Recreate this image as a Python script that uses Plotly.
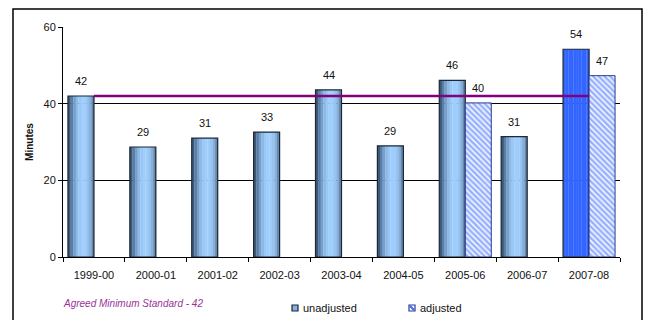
import plotly.graph_objects as go

categories = ["1999-00", "2000-01", "2001-02", "2002-03", "2003-04",
              "2004-05", "2005-06", "2006-07", "2007-08"]
unadjusted = [42.0, 28.7, 31.0, 32.6, 43.6, 29.0, 46.1, 31.4, 54.2]
adjusted = [None, None, None, None, None, None, 40.2, None, 47.3]
standard = [42, 42, 42, 42, 42, 42, 42, 42, 42]
y_ticks = [0, 20, 40, 60]
series_names = ["unadjusted", "adjusted"]

W = 647
H = 320
L, R, T, B = 63, 27, 27, 63
PW, PH = W - L - R, H - T - B


def px_x(p):
    return (p - L) / PW


def px_y(p):
    return (H - B - p) / PH


FONT = "Liberation Sans, Arial, sans-serif"
BW = 0.42  # bar width in category units
half_bar_px = BW * PW / len(categories) / 2

# gradient strips for the "unadjusted" bars
stops = ["#3E5A78", "#5A7EA6", "#76A0CC", "#8CB9E6", "#99C7F6",
         "#A0CEFC", "#9FCDFB", "#97C3F0", "#86AFD9", "#6687AE"]
n = len(stops)
highlight = "#3366FF"
hatch_color = "#3366FF"
hatch_edge = "#2A3A90"
dark_edge = "#1B2836"

fig = go.Figure()

for i, c in enumerate(stops):
    colors = [c] * (len(categories) - 1) + [highlight]
    fig.add_trace(go.Bar(
        x=categories, y=unadjusted,
        offset=-BW + i * BW / n, width=BW / n + 0.004,
        marker=dict(color=colors, line=dict(width=0)),
        showlegend=False, hoverinfo="skip",
    ))

# outline for unadjusted
fig.add_trace(go.Bar(
    x=categories, y=unadjusted, name=series_names[0],
    offset=-BW, width=BW,
    marker=dict(color="rgba(0,0,0,0)", line=dict(color=dark_edge, width=1.2)),
    showlegend=False,
))

# adjusted (hatched)
fig.add_trace(go.Bar(
    x=categories, y=adjusted, name=series_names[1],
    offset=0, width=BW,
    marker=dict(color="white",
                line=dict(color=hatch_edge, width=1),
                pattern=dict(shape="\\", fgcolor=hatch_color, bgcolor="white",
                             size=4, solidity=0.65)),
    showlegend=False,
))

# standard line
fig.add_trace(go.Scatter(
    x=categories, y=standard, mode="lines",
    line=dict(color="#800080", width=2.5),
    showlegend=False, hoverinfo="skip",
))

# value labels
labels = []
for cat, v in zip(categories, unadjusted):
    labels.append(dict(x=cat, y=v, text=f"{v:.0f}", xref="x", yref="y",
                       xshift=-half_bar_px, yshift=7, yanchor="bottom",
                       showarrow=False,
                       font=dict(family=FONT, size=11, color="#111111")))
for cat, v in zip(categories, adjusted):
    if v is None:
        continue
    labels.append(dict(x=cat, y=v, text=f"{v:.0f}", xref="x", yref="y",
                       xshift=half_bar_px, yshift=7, yanchor="bottom",
                       showarrow=False,
                       font=dict(family=FONT, size=11, color="#111111")))

labels.append(dict(
    text="Agreed Minimum Standard - 42",
    xref="paper", yref="paper", x=px_x(61), y=px_y(303),
    xanchor="left", yanchor="middle", showarrow=False,
    font=dict(family=FONT, size=10, color="#993399", style="italic"),
))

# manual legend
legend_y = 308
leg_items = [(292, series_names[0]), (409, series_names[1])]
shapes = []
for (lx, name) in leg_items:
    labels.append(dict(
        text=name, xref="paper", yref="paper",
        x=px_x(lx + 9), y=px_y(legend_y), xanchor="left", yanchor="middle",
        showarrow=False, font=dict(family=FONT, size=11, color="#111111"),
    ))
# unadjusted swatch
shapes.append(dict(
    type="rect", xref="paper", yref="paper",
    x0=px_x(292), x1=px_x(298), y0=px_y(legend_y - 3), y1=px_y(legend_y + 3),
    fillcolor="#86B2E0", line=dict(color=dark_edge, width=1.2),
))
# adjusted swatch
shapes.append(dict(
    type="rect", xref="paper", yref="paper",
    x0=px_x(409), x1=px_x(415), y0=px_y(legend_y - 3), y1=px_y(legend_y + 3),
    fillcolor="white", line=dict(color=hatch_edge, width=1.2),
))
shapes.append(dict(
    type="line", xref="paper", yref="paper",
    x0=px_x(410), x1=px_x(414), y0=px_y(legend_y - 2), y1=px_y(legend_y + 2),
    line=dict(color=hatch_color, width=2),
))
# outer frame
shapes.append(dict(
    type="rect", xref="paper", yref="paper",
    x0=px_x(13), x1=px_x(642), y0=px_y(9), y1=px_y(330),
    line=dict(color="#000000", width=1.5), fillcolor="rgba(0,0,0,0)",
    layer="below",
))

fig.update_layout(
    width=W, height=H,
    margin=dict(l=L, r=R, t=T, b=B, autoexpand=False),
    paper_bgcolor="white", plot_bgcolor="white",
    barmode="overlay", showlegend=False,
    font=dict(family=FONT, size=11, color="#111111"),
    annotations=labels,
    shapes=shapes,
)

fig.update_xaxes(
    type="category", range=[-0.5, len(categories) - 0.5],
    showline=True, linecolor="#000000", linewidth=1,
    ticks="outside", tickson="boundaries", ticklen=4, tickcolor="#000000",
    ticklabelstandoff=8,
    showgrid=False, tickfont=dict(family=FONT, size=11, color="#111111"),
)
fig.update_yaxes(
    range=[0, 60], tickvals=y_ticks,
    showline=True, linecolor="#000000", linewidth=1,
    ticks="outside", ticklen=4, tickcolor="#000000",
    showgrid=True, gridcolor="#000000", gridwidth=1, zeroline=False,
    tickfont=dict(family=FONT, size=11, color="#111111"),
    title=dict(text="Minutes", standoff=8,
               font=dict(family=FONT, size=10, color="#111111", weight="bold")),
)

fig.write_html("out.html")
